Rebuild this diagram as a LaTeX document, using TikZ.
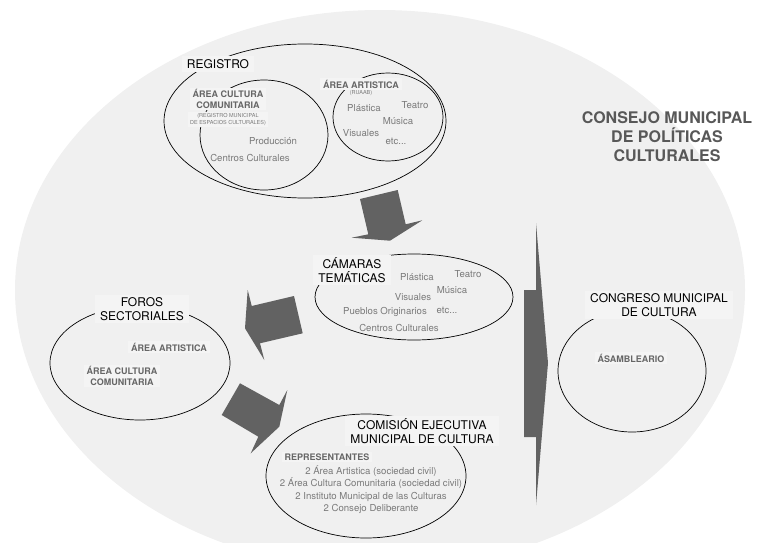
\documentclass[tikz,border=0pt]{standalone}
\usepackage{fontspec}
\setmainfont{TeX Gyre Heros}
\usetikzlibrary{shapes.geometric}
\definecolor{bgfill}{RGB}{240,240,240}
\definecolor{lblfill}{RGB}{244,244,244}
\definecolor{arrowgray}{RGB}{98,98,98}
\definecolor{boldgray}{RGB}{102,102,102}
\definecolor{itemgray}{RGB}{122,122,122}
\definecolor{titlegray}{RGB}{88,88,88}
\begin{document}
\begin{tikzpicture}[x=1pt,y=-1pt,
  oval/.style={ellipse, draw=black, line width=0.7pt, inner sep=0pt},
  lbl/.style={fill=lblfill, text=black, font=\fontsize{12}{13.5}\selectfont, align=center, inner xsep=5pt, inner ysep=3pt},
  hdr/.style={fill=lblfill, text=boldgray, font=\bfseries\fontsize{9}{10.5}\selectfont, align=center, inner xsep=3pt, inner ysep=2pt},
  item/.style={text=itemgray, font=\fontsize{9.6}{12.3}\selectfont, align=center, inner sep=0pt},
  tinytxt/.style={text=itemgray, font=\fontsize{5.5}{7}\selectfont, align=center, inner sep=0pt},
  title/.style={text=titlegray, font=\bfseries\fontsize{16}{19}\selectfont, align=center, inner sep=0pt},
  blockarrow/.style={fill=arrowgray, draw=none}]
\useasboundingbox (0,0) rectangle (757,543);
\begin{scope}
  \clip (0,0) rectangle (757,543);
  \fill[bgfill] (380,290) ellipse [x radius=365pt, y radius=280pt];
\end{scope}

% ellipses
\node[oval, minimum width=282pt, minimum height=154pt] (registro) at (305,121) {};
\node[oval, minimum width=128pt, minimum height=110pt] (comunitaria) at (264,135) {};
\node[oval, minimum width=110pt, minimum height=88pt] (artistica) at (388,117) {};
\node[oval, minimum width=198pt, minimum height=86pt] (camaras) at (414,297) {};
\node[oval, minimum width=180pt, minimum height=114pt] (foros) at (140,363) {};
\node[oval, minimum width=200pt, minimum height=124pt] (comision) at (366,476) {};
\node[oval, minimum width=148pt, minimum height=122pt] (congreso) at (632,371) {};

% block arrows
\fill[blockarrow] (360,199) -- (397.7,190) -- (405.7,224.3) -- (422.3,220.3) -- (390,240.7) -- (351.7,237.7) -- (368.3,234.3) -- cycle;
\fill[blockarrow] (247.7,290) -- (251.7,306) -- (294,296) -- (302.7,333.3) -- (260,343.3) -- (264.3,360) -- (245,328.3) -- cycle;
\fill[blockarrow] (240,383.3) -- (279.3,405) -- (287.3,390) -- (279.3,426.7) -- (250.7,453.3) -- (258.3,436.7) -- (221.7,415) -- cycle;
\fill[blockarrow] (524,290) -- (536,290) -- (536,223) -- (548,363) -- (536,505) -- (536,437) -- (524,437) -- cycle;

% registro
\node[lbl] (tregistro) at (218,64) {REGISTRO};
\node[hdr] (hcomunitaria) at (228,99) {ÁREA CULTURA\\COMUNITARIA};
\node[tinytxt, fill=lblfill, inner xsep=2pt, inner ysep=1pt] (rmec) at (228,119.5) {(REGISTRO MUNICIPAL\\DE ESPACIOS CULTURALES)};
\node[item] (produccion) at (273,141) {Producción};
\node[item] (centros1) at (250,158) {Centros Culturales};
\node[hdr] (hartistica) at (361,84) {ÁREA ARTISTICA};
\node[tinytxt] (ruaab) at (361,93.5) {(RUAAB)};
\node[item] (plastica1) at (364,108) {Plástica};
\node[item] (teatro1) at (415,105) {Teatro};
\node[item] (musica1) at (398,121) {Música};
\node[item] (visuales1) at (361,133) {Visuales};
\node[item] (etc1) at (396,141) {etc...};

% camaras
\node[lbl] (tcamaras) at (352,270) {CÁMARAS\\TEMÁTICAS};
\node[item] (plastica2) at (417,277) {Plástica};
\node[item] (teatro2) at (468,274) {Teatro};
\node[item] (musica2) at (452,290) {Música};
\node[item] (visuales2) at (413,297) {Visuales};
\node[item] (pueblos) at (385,312) {Pueblos Originarios};
\node[item] (etc2) at (447,310) {etc...};
\node[item] (centros2) at (399,328) {Centros Culturales};

% foros
\node[lbl] (tforos) at (142,309) {FOROS\\SECTORIALES};
\node[hdr] (fartistica) at (169,347) {ÁREA ARTISTICA};
\node[hdr] (fcomunitaria) at (122,376) {ÁREA CULTURA\\COMUNITARIA};

% comision
\node[lbl] (tcomision) at (422,431) {COMISIÓN EJECUTIVA\\MUNICIPAL DE CULTURA};
\node[hdr] (representantes) at (327,457) {REPRESENTANTES};
\node[item] (reps) at (371,489.5) {2 Área Artistica (sociedad civil)\\2 Área Cultura Comunitaria (sociedad civil)\\2 Instituto Municipal de las Culturas\\2 Consejo Deliberante};

% congreso
\node[lbl] (tcongreso) at (659,305) {CONGRESO MUNICIPAL\\DE CULTURA};
\node[hdr] (asambleario) at (631,358) {ÁSAMBLEARIO};

% title
\node[title] (consejo) at (667,137) {CONSEJO MUNICIPAL\\DE POLÍTICAS\\CULTURALES};
\end{tikzpicture}
\end{document}
